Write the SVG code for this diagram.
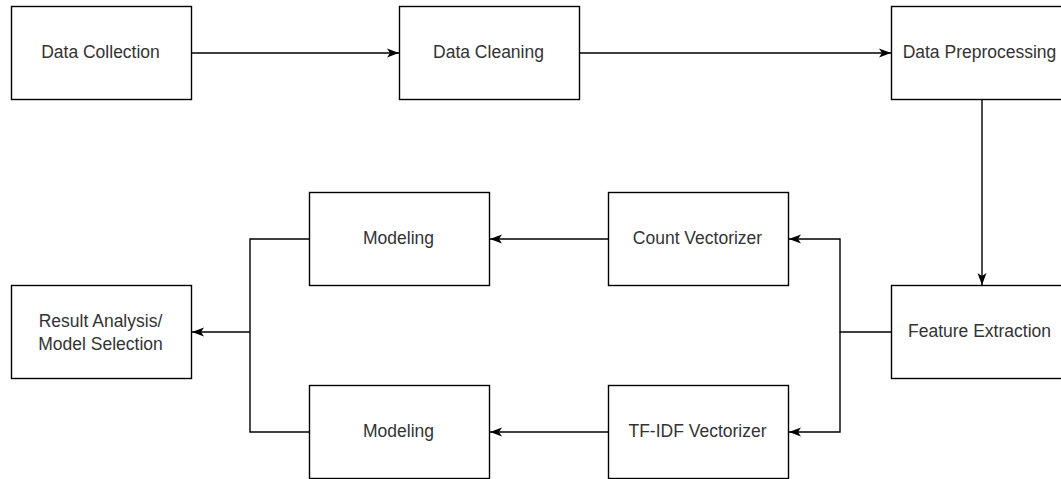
<svg xmlns="http://www.w3.org/2000/svg" width="1061" height="479" viewBox="0 0 1061 479">
<style>
.box{fill:#fff;stroke:#000;stroke-width:1.4}
.lbl{font-family:"Liberation Sans",Arial,sans-serif;font-size:17.5px;fill:#333;text-anchor:middle}
.c{fill:none;stroke:#000;stroke-width:1.4}
</style>
<defs>
<marker id="ah" markerUnits="userSpaceOnUse" markerWidth="13" markerHeight="11" refX="12" refY="5.5" orient="auto">
<path d="M0,1 L12,5.5 L0,10 L3,5.5 Z" fill="#000"/>
</marker>
</defs>
<rect width="1061" height="479" fill="#fff"/>
<g id="connectors">
<path class="c" d="M191.5,53 H399" marker-end="url(#ah)"/>
<path class="c" d="M579.5,53 H891" marker-end="url(#ah)"/>
<path class="c" d="M982,99.5 V285" marker-end="url(#ah)"/>
<path class="c" d="M891.5,332 H840 V239 H789" marker-end="url(#ah)"/>
<path class="c" d="M840,332 V432 H789" marker-end="url(#ah)"/>
<path class="c" d="M608.5,239 H490" marker-end="url(#ah)"/>
<path class="c" d="M608.5,432 H490" marker-end="url(#ah)"/>
<path class="c" d="M309.5,239 H250 V432 H309.5"/>
<path class="c" d="M250,332 H192" marker-end="url(#ah)"/>
</g>
<g id="data-collection"><rect class="box" x="11.5" y="6.5" width="180" height="93"/><text class="lbl" x="100.5" y="58">Data Collection</text></g>
<g id="data-cleaning"><rect class="box" x="399.5" y="6.5" width="180" height="93"/><text class="lbl" x="488.5" y="58">Data Cleaning</text></g>
<g id="data-preprocessing"><rect class="box" x="891.5" y="6.5" width="180" height="93"/><text class="lbl" x="979.5" y="58">Data Preprocessing</text></g>
<g id="feature-extraction"><rect class="box" x="891.5" y="285.5" width="180" height="93"/><text class="lbl" x="979.5" y="337">Feature Extraction</text></g>
<g id="count-vectorizer"><rect class="box" x="608.5" y="192.5" width="180" height="93"/><text class="lbl" x="697.5" y="244">Count Vectorizer</text></g>
<g id="tfidf-vectorizer"><rect class="box" x="608.5" y="385.5" width="180" height="93"/><text class="lbl" x="697.5" y="437">TF-IDF Vectorizer</text></g>
<g id="modeling-1"><rect class="box" x="309.5" y="192.5" width="180" height="93"/><text class="lbl" x="398.5" y="244">Modeling</text></g>
<g id="modeling-2"><rect class="box" x="309.5" y="385.5" width="180" height="93"/><text class="lbl" x="398.5" y="437">Modeling</text></g>
<g id="result-analysis"><rect class="box" x="11.5" y="285.5" width="180" height="93"/><text class="lbl" x="100.5" y="327">Result Analysis/</text><text class="lbl" x="100.5" y="350">Model Selection</text></g>
</svg>
